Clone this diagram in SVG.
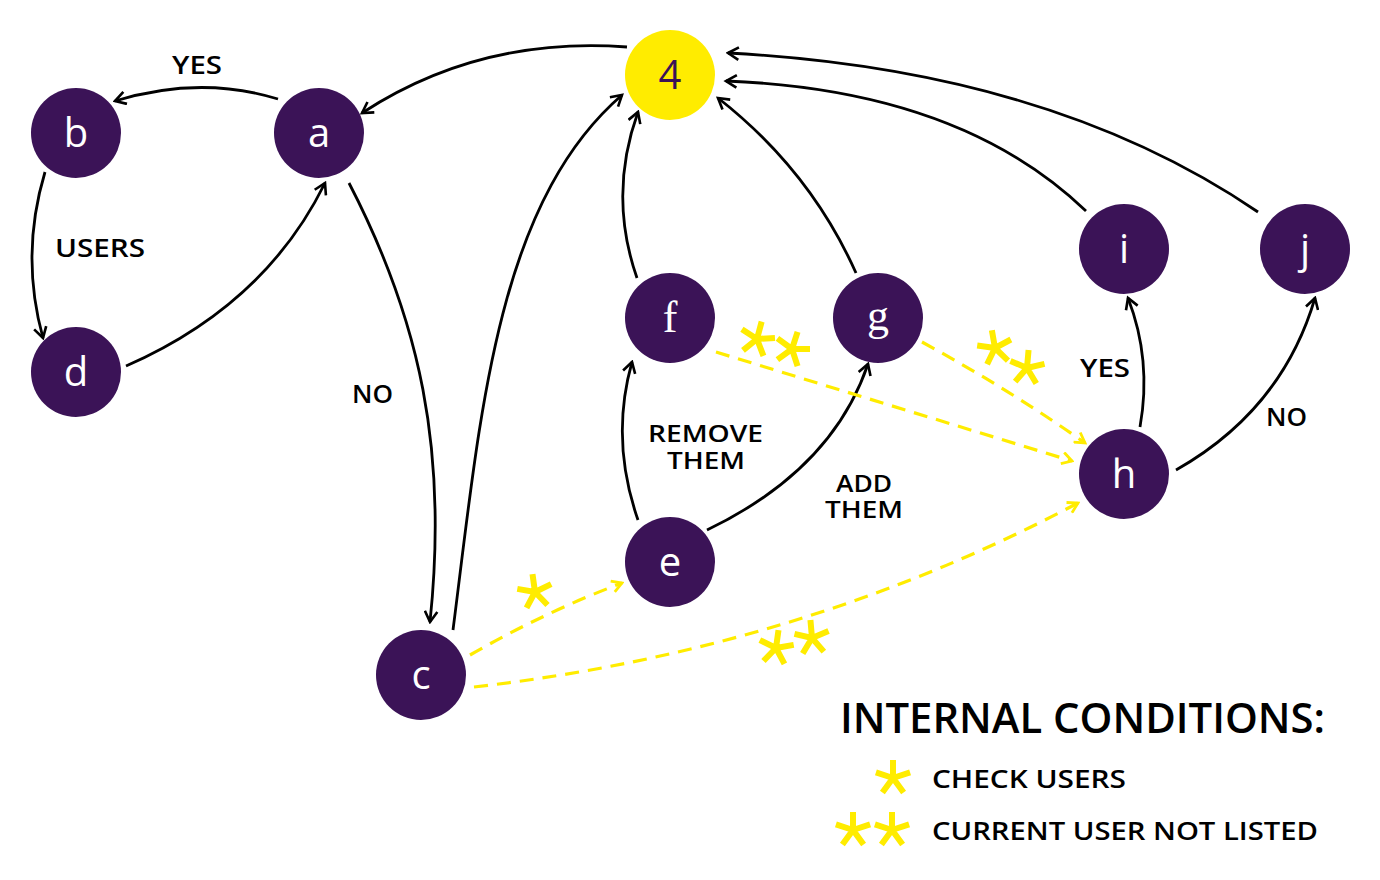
<svg xmlns="http://www.w3.org/2000/svg" xmlns:xlink="http://www.w3.org/1999/xlink" width="1380" height="880" viewBox="0 0 1380 880">
<style>
.node{fill:#3b1357}
.nl{fill:#ffffff;font-family:"Open Sans","Noto Sans",sans-serif;font-size:40px;text-anchor:middle}
.nls{fill:#ffffff;font-family:"Liberation Serif","DejaVu Serif",serif;font-size:44px;text-anchor:middle}
.edge{fill:none;stroke:#000;stroke-width:2.8}
.dash{fill:none;stroke:#ffec00;stroke-width:3.2;stroke-dasharray:14 9}
.lbl{font-family:"Open Sans","Noto Sans",sans-serif;font-weight:600;font-size:26px;fill:#000}
.lbl2{font-family:"Open Sans","Noto Sans",sans-serif;font-weight:600;font-size:24px;fill:#000}
.star{fill:none;stroke:#ffec00;stroke-width:6}
</style>
<defs>
<marker id="ah" viewBox="0 0 12 12" refX="10" refY="6" markerWidth="15" markerHeight="15" markerUnits="userSpaceOnUse" orient="auto">
<path d="M1.5,1 L10,6 L1.5,11" fill="none" stroke="#000" stroke-width="2.1"/>
</marker>
<marker id="ahy" viewBox="0 0 12 12" refX="10" refY="6" markerWidth="14" markerHeight="14" markerUnits="userSpaceOnUse" orient="auto">
<path d="M1.5,1 L10,6 L1.5,11" fill="none" stroke="#ffec00" stroke-width="2.4"/>
</marker>
<path id="st" class="star" d="M0,0 L0,-18 M0,0 L17.1,-5.6 M0,0 L10.6,14.6 M0,0 L-10.6,14.6 M0,0 L-17.1,-5.6"/>
</defs>

<g id="connectors">
<path class="edge" marker-end="url(#ah)" d="M627,47 Q480,36 362,113"/>
<path class="edge" marker-end="url(#ah)" d="M278,99 Q200,75 115,101"/>
<path class="edge" marker-end="url(#ah)" d="M45,172 Q20,255 43,338"/>
<path class="edge" marker-end="url(#ah)" d="M126,366 Q265,305 325,183"/>
<path class="edge" marker-end="url(#ah)" d="M349,183 C420,320 448,450 430,622"/>
<path class="edge" marker-end="url(#ah)" d="M453,630 C480,420 495,205 622,95"/>
<path class="edge" marker-end="url(#ah)" d="M637,278 Q608,195 638,112"/>
<path class="edge" marker-end="url(#ah)" d="M856,273 Q810,170 718,98"/>
<path class="edge" marker-end="url(#ah)" d="M1086,211 Q960,90 726,81"/>
<path class="edge" marker-end="url(#ah)" d="M1258,212 Q1050,70 728,53"/>
<path class="edge" marker-end="url(#ah)" d="M1140,427 Q1152,360 1128,298"/>
<path class="edge" marker-end="url(#ah)" d="M1176,470 Q1282,410 1315,298"/>
<path class="edge" marker-end="url(#ah)" d="M638,520 Q610,440 632,362"/>
<path class="edge" marker-end="url(#ah)" d="M707,530 Q832,470 868,364"/>
<path class="dash" marker-end="url(#ahy)" d="M470,655 Q545,612 622,583"/>
<path class="dash" marker-end="url(#ahy)" d="M474,687 Q800,650 1078,503"/>
<path class="dash" marker-end="url(#ahy)" d="M716,352 L1072,461"/>
<path class="dash" marker-end="url(#ahy)" d="M922,342 Q1010,390 1085,443"/>
</g>

<g id="stars">
<use xlink:href="#st" transform="translate(535,592) rotate(-8)"/>
<use xlink:href="#st" transform="translate(776,648) rotate(8)"/>
<use xlink:href="#st" transform="translate(812,638) rotate(-5)"/>
<use xlink:href="#st" transform="translate(757,339) rotate(15)"/>
<use xlink:href="#st" transform="translate(792,349) rotate(18)"/>
<use xlink:href="#st" transform="translate(995,348) rotate(-10)"/>
<use xlink:href="#st" transform="translate(1027,368) rotate(5)"/>
</g>

<g id="node-4"><circle cx="670" cy="75" r="45" fill="#ffec00"/><text x="670" y="89" class="nl" style="fill:#3b1357">4</text></g>
<g id="node-a"><circle class="node" cx="319" cy="133" r="45"/><text x="319" y="147" class="nl">a</text></g>
<g id="node-b"><circle class="node" cx="76" cy="133" r="45"/><text x="76" y="147" class="nl">b</text></g>
<g id="node-d"><circle class="node" cx="76" cy="372" r="45"/><text x="76" y="386" class="nl">d</text></g>
<g id="node-c"><circle class="node" cx="421" cy="675" r="45"/><text x="421" y="689" class="nl">c</text></g>
<g id="node-e"><circle class="node" cx="670" cy="562" r="45"/><text x="670" y="576" class="nl">e</text></g>
<g id="node-f"><circle class="node" cx="670" cy="318" r="45"/><text x="670" y="332" class="nls">f</text></g>
<g id="node-g"><circle class="node" cx="878" cy="318" r="45"/><text x="878" y="330" class="nls">g</text></g>
<g id="node-h"><circle class="node" cx="1124" cy="474" r="45"/><text x="1124" y="488" class="nl">h</text></g>
<g id="node-i"><circle class="node" cx="1124" cy="249" r="45"/><text x="1124" y="263" class="nl">i</text></g>
<g id="node-j"><circle class="node" cx="1305" cy="249" r="45"/><text x="1305" y="263" class="nl">j</text></g>

<g id="labels">
<text class="lbl" x="172" y="74" textLength="50" lengthAdjust="spacingAndGlyphs">YES</text>
<text class="lbl" x="55" y="257" textLength="90" lengthAdjust="spacingAndGlyphs">USERS</text>
<text class="lbl" x="352" y="403" textLength="41" lengthAdjust="spacingAndGlyphs">NO</text>
<text class="lbl2" x="648" y="442" textLength="115" lengthAdjust="spacingAndGlyphs">REMOVE</text>
<text class="lbl2" x="667" y="469" textLength="78" lengthAdjust="spacingAndGlyphs">THEM</text>
<text class="lbl2" x="836" y="492" textLength="56" lengthAdjust="spacingAndGlyphs">ADD</text>
<text class="lbl2" x="825" y="518" textLength="78" lengthAdjust="spacingAndGlyphs">THEM</text>
<text class="lbl" x="1080" y="377" textLength="50" lengthAdjust="spacingAndGlyphs">YES</text>
<text class="lbl" x="1266" y="426" textLength="41" lengthAdjust="spacingAndGlyphs">NO</text>
</g>

<g id="legend">
<text class="lbl" x="840" y="733" style="font-size:41px" textLength="485" lengthAdjust="spacingAndGlyphs">INTERNAL CONDITIONS:</text>
<use xlink:href="#st" transform="translate(893,778)"/>
<text class="lbl" x="932" y="788" textLength="194" lengthAdjust="spacingAndGlyphs">CHECK USERS</text>
<use xlink:href="#st" transform="translate(853,830)"/>
<use xlink:href="#st" transform="translate(892,830)"/>
<text class="lbl" x="932" y="840" textLength="386" lengthAdjust="spacingAndGlyphs">CURRENT USER NOT LISTED</text>
</g>
</svg>
